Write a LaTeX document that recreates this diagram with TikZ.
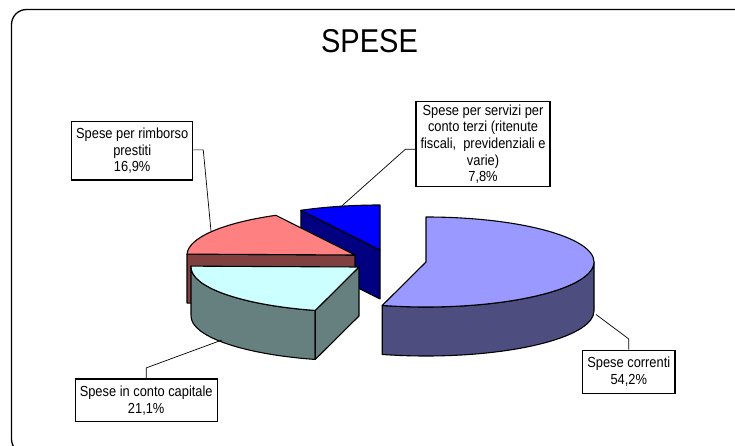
\documentclass[tikz,border=0pt]{standalone}
\usepackage{fontspec}
\setmainfont{Liberation Sans}[FakeStretch=0.88]
\usetikzlibrary{calc}
\definecolor{bigtop}{HTML}{9999FF}
\definecolor{bigside}{HTML}{4D4D80}
\definecolor{bluetop}{HTML}{0000FF}
\definecolor{blueside}{HTML}{000080}
\definecolor{pinktop}{HTML}{FF8080}
\definecolor{pinkside}{HTML}{804040}
\definecolor{cyantop}{HTML}{CCFFFF}
\definecolor{cyanside}{HTML}{668080}
\tikzset{
  slice/.style={draw=black, line width=1.1pt, line join=round},
  leader/.style={draw=black, line width=0.7pt},
  labelbox/.style={draw=black, line width=1.1pt, fill=white, align=center, inner sep=0pt,
    font=\fontsize{14.6}{16.7}\selectfont},
  frame/.style={draw=black, line width=1.3pt, rounded corners=15pt},
  ttl/.style={font=\fontsize{33}{36}\selectfont, inner sep=0pt, anchor=base},
  pe/.style={x radius=168pt, y radius=45pt}
}
\begin{document}
\begin{tikzpicture}[x=1pt,y=1pt]
\useasboundingbox (0,0) rectangle (735,-446);
\fill[white] (0,0) rectangle (735,-446);
\begin{scope}
\clip (0,0) rectangle (735,-446);
\draw[frame] (760,-9.5) -- (11.5,-9.5) -- (11.5,-454) -- (760,-454);
\end{scope}

\node[ttl] (title) at (369.5,-52.3) {SPESE};

% centres of the exploded slices
\coordinate (B) at (426,-262);
\coordinate (U) at (380,-250);
\coordinate (P) at (355,-255);
\coordinate (C) at (359,-267);

% blue slice (7,8%)
\draw[slice, fill=blueside] (U) -- ($(U)+(118.1:168pt and 45pt)$) -- ++(0,-49) -- ($(U)+(0,-49)$) -- cycle;
\draw[slice, fill=bluetop] (U) -- ($(U)+(90:168pt and 45pt)$) arc[start angle=90, end angle=118.1, pe] -- cycle;

% pink slice (16,9%)
\draw[slice, fill=pinkside] (P) -- ($(P)+(178.9:168pt and 45pt)$) -- ++(0,-49) -- ($(P)+(0,-49)$) -- cycle;
\draw[slice, fill=pinktop] (P) -- ($(P)+(118.1:168pt and 45pt)$) arc[start angle=118.1, end angle=178.9, pe] -- cycle;

% cyan slice (21,1%)
\draw[slice, fill=cyanside] ($(C)+(178.9:168pt and 45pt)$) arc[start angle=178.9, end angle=254.9, pe] -- ++(0,-49) arc[start angle=254.9, end angle=178.9, pe] -- cycle;
\draw[slice, fill=cyanside] (C) -- ($(C)+(254.9:168pt and 45pt)$) -- ++(0,-49) -- ($(C)+(0,-49)$) -- cycle;
\draw[slice, fill=cyantop] (C) -- ($(C)+(178.9:168pt and 45pt)$) arc[start angle=178.9, end angle=254.9, pe] -- cycle;

% big slice (54,2%)
\draw[slice, fill=bigside] ($(B)+(0:168pt and 45pt)$) arc[start angle=0, end angle=-105.1, pe] -- ++(0,-49) arc[start angle=-105.1, end angle=0, pe] -- cycle;
\draw[slice, fill=bigtop] (B) -- ($(B)+(90:168pt and 45pt)$) arc[start angle=90, end angle=-105.1, pe] -- cycle;

% leader end points on the pie
\coordinate (pp) at (211,-231);
\coordinate (bp) at (339.5,-208);
\coordinate (cp) at (222,-340);
\coordinate (rp) at (596,-314.5);

% labels
\node[labelbox, minimum width=121pt, minimum height=58.3pt] (lp) at (132.2,-150.9)
  {Spese per rimborso\\prestiti\\16,9\%};
\node[labelbox, minimum width=134pt, minimum height=85pt] (lb) at (483,-144.2)
  {Spese per servizi per\\conto terzi (ritenute\\fiscali,~ previdenziali e\\varie)\\7,8\%};
\node[labelbox, minimum width=142.3pt, minimum height=42.7pt] (lc) at (146.2,-400.3)
  {Spese in conto capitale\\21,1\%};
\node[labelbox, minimum width=92.3pt, minimum height=43.3pt] (lr) at (628.8,-371.7)
  {Spese correnti\\54,2\%};

% leader lines
\draw[leader] ([yshift=1pt]lp.east) -- ++(10,0) -- (pp);
\draw[leader] ([yshift=-5pt]lb.west) -- ++(-10,0) -- (bp);
\draw[leader] (lc.north) -- ++(0,10.5) -- (cp);
\draw[leader] (lr.north) -- ++(0,10.5) -- (rp);
\end{tikzpicture}
\end{document}
